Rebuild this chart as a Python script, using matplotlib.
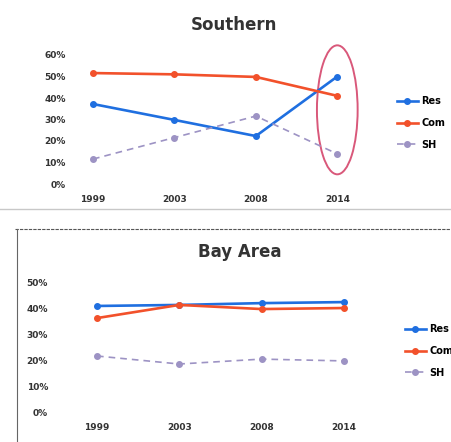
import matplotlib
matplotlib.use("Agg")
import matplotlib.pyplot as plt
from matplotlib.patches import Ellipse
from matplotlib.lines import Line2D

years = ["1999", "2003", "2008", "2014"]
series_names = ["Res", "Com", "SH"]

# Disposal share by sector (fraction of total)
southern_res = [0.372, 0.298, 0.223, 0.500]
southern_com = [0.516, 0.510, 0.498, 0.410]
southern_sh = [0.116, 0.216, 0.316, 0.140]

bay_res = [0.411, 0.415, 0.422, 0.426]
bay_com = [0.364, 0.415, 0.399, 0.403]
bay_sh = [0.217, 0.186, 0.205, 0.198]

colors = {"Res": "#1f6fe0", "Com": "#f2512b", "SH": "#9d93c4"}
styles = {"Res": "-", "Com": "-", "SH": (0, (4, 3))}
widths = {"Res": 1.9, "Com": 1.9, "SH": 1.2}

W, H = 452, 442
fig = plt.figure(figsize=(W / 100, H / 100), dpi=100)
fig.patch.set_facecolor("white")


def box(l, b, r, t):
    return [l / W, 1 - b / H, (r - l) / W, (b - t) / H]


def panel(ax, data, ymax, title, title_xy, xlim, legend_xy, ypad):
    x = list(range(len(years)))
    for name, vals in zip(series_names, data):
        ax.plot(x, vals, color=colors[name], linestyle=styles[name],
                linewidth=widths[name], marker="o", markersize=4,
                label=name, solid_capstyle="round")
    ax.set_xlim(*xlim)
    ax.set_ylim(0, ymax)
    ticks = [i / 10 for i in range(int(round(ymax * 10)) + 1)]
    ax.set_yticks(ticks)
    ax.set_yticklabels([f"{int(round(t * 100))}%" for t in ticks],
                       fontsize=6.5, fontweight="bold", color="#333333")
    ax.set_xticks(x)
    ax.set_xticklabels(years, fontsize=6.5, fontweight="bold", color="#333333")
    ax.tick_params(axis="x", length=0, pad=8)
    ax.tick_params(axis="y", length=0, pad=ypad)
    for s in ax.spines.values():
        s.set_visible(False)
    ax.set_facecolor("none")
    fig.text(title_xy[0] / W, 1 - title_xy[1] / H, title, ha="center",
             va="center", fontsize=12, fontweight="bold", color="#333333")
    handles = [Line2D([0], [0], color=colors[n], linestyle=styles[n],
                      linewidth=widths[n], marker="o", markersize=4)
               for n in series_names]
    fig.legend(handles, series_names, loc="center left",
               bbox_to_anchor=(legend_xy[0] / W, 1 - legend_xy[1] / H),
               frameon=False, handlelength=2.2,
               labelspacing=1.2, handletextpad=0.3,
               prop={"weight": "bold", "size": 7})


ax1 = fig.add_axes(box(70, 184, 378, 55))
panel(ax1, [southern_res, southern_com, southern_sh], 0.6, "Southern",
      (234, 25), (-0.283, 3.5), (388, 123), 3)
ax1.add_patch(Ellipse((3, 0.345), 0.5, 0.60, fill=False,
                      edgecolor="#d9587a", linewidth=1.4, clip_on=False))

ax2 = fig.add_axes(box(50, 412, 385, 283))
panel(ax2, [bay_res, bay_com, bay_sh], 0.5, "Bay Area",
      (240, 252), (-0.571, 3.5), (396, 351), 1.5)

# Chart frame edges
fig.add_artist(Line2D([0, 1], [1 - 209 / H, 1 - 209 / H], color="#c8c8c8",
                      linewidth=1.0))
fig.add_artist(Line2D([15 / W, 1], [1 - 229 / H, 1 - 229 / H],
                      color="#555555", linewidth=0.8, linestyle=(0, (3, 1))))
fig.add_artist(Line2D([17 / W, 17 / W], [0, 1 - 229 / H], color="#666666",
                      linewidth=0.8))

fig.savefig("out.png", dpi=100, facecolor="white")
